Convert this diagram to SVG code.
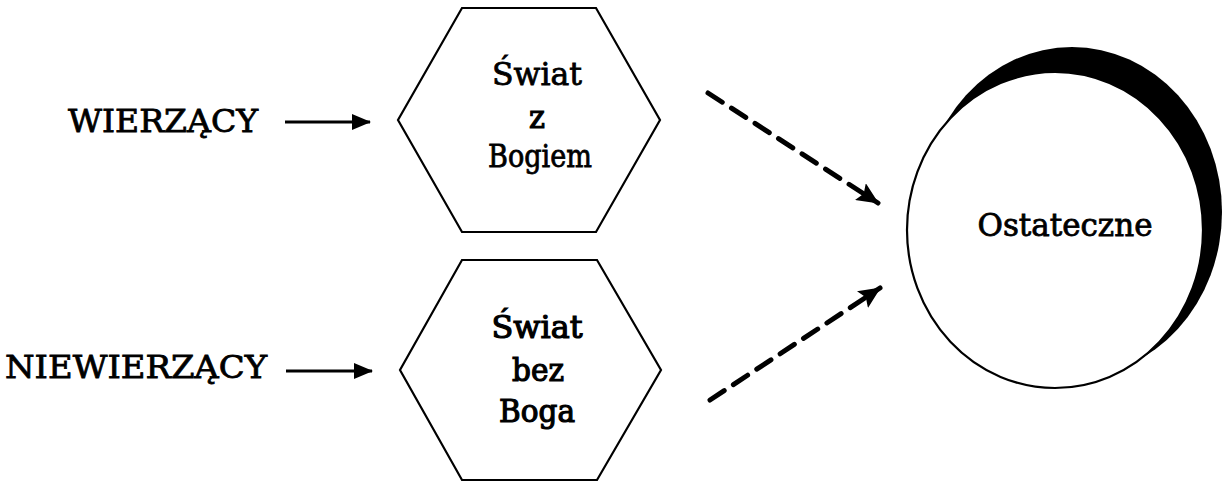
<svg xmlns="http://www.w3.org/2000/svg" width="1230" height="483" viewBox="0 0 1230 483">
  <style>
    .lbl { font-family: "DejaVu Serif", "Liberation Serif", serif; font-size: 31px; fill: #000; stroke: #000; stroke-width: 0.8; }
    .heavy { stroke-width: 1.2; }
    .mid { text-anchor: middle; }
    .hex { fill: #fff; stroke: #000; stroke-width: 2.2; stroke-linejoin: miter; }
    .solid { stroke: #000; stroke-width: 3; fill: none; }
    .dash { stroke: #000; stroke-width: 5; fill: none; stroke-dasharray: 17 11; stroke-linecap: round; }
  </style>
  <defs>
    <marker id="headSmall" markerUnits="userSpaceOnUse" markerWidth="20" markerHeight="16" refX="18" refY="8" orient="auto">
      <path d="M0,0 L19,8 L0,16 Z" fill="#000"/>
    </marker>
    <marker id="headBig" markerUnits="userSpaceOnUse" markerWidth="22" markerHeight="20" refX="21" refY="10" orient="auto">
      <path d="M0,0 L22,10 L0,20 L4,10 Z" fill="#000"/>
    </marker>
  </defs>

  <rect width="1230" height="483" fill="#fff"/>

  <!-- left-hand labels -->
  <g id="wierzacy">
    <text class="lbl" x="68" y="132" textLength="190" lengthAdjust="spacingAndGlyphs">WIERZĄCY</text>
  </g>
  <g id="niewierzacy">
    <text class="lbl" x="5" y="378" textLength="262" lengthAdjust="spacingAndGlyphs">NIEWIERZĄCY</text>
  </g>

  <!-- world with God -->
  <g id="swiat-z-bogiem">
    <polygon class="hex" points="462,8 596,8 660,120 596,232 462,232 398,120"/>
    <text class="lbl mid" x="537" y="85" textLength="90" lengthAdjust="spacingAndGlyphs">Świat</text>
    <text class="lbl heavy mid" x="537" y="128" textLength="16" lengthAdjust="spacingAndGlyphs">z</text>
    <text class="lbl mid" x="540" y="167" textLength="104" lengthAdjust="spacingAndGlyphs">Bogiem</text>
  </g>

  <!-- world without God -->
  <g id="swiat-bez-boga">
    <polygon class="hex" points="462,260 597,260 661,370 597,480 462,480 400,370"/>
    <text class="lbl heavy mid" x="537" y="338" textLength="91" lengthAdjust="spacingAndGlyphs">Świat</text>
    <text class="lbl heavy mid" x="538" y="381" textLength="52" lengthAdjust="spacingAndGlyphs">bez</text>
    <text class="lbl heavy mid" x="537" y="422" textLength="76" lengthAdjust="spacingAndGlyphs">Boga</text>
  </g>

  <!-- the ultimate: circle with a dark crescent behind it -->
  <g id="ostateczne">
    <ellipse cx="1072" cy="212" rx="150" ry="165" fill="#000"/>
    <ellipse cx="1055" cy="230" rx="148" ry="158" fill="#fff" stroke="#000" stroke-width="2.2"/>
    <text class="lbl mid" x="1065" y="236" textLength="175" lengthAdjust="spacingAndGlyphs">Ostateczne</text>
  </g>

  <!-- connectors -->
  <g id="connectors">
    <line class="solid" x1="285" y1="122" x2="370" y2="122" marker-end="url(#headSmall)"/>
    <line class="solid" x1="286" y1="371" x2="372" y2="371" marker-end="url(#headSmall)"/>
    <line class="dash" x1="708" y1="93" x2="878" y2="203" marker-end="url(#headBig)"/>
    <line class="dash" x1="710" y1="400" x2="880" y2="288" marker-end="url(#headBig)"/>
  </g>
</svg>
